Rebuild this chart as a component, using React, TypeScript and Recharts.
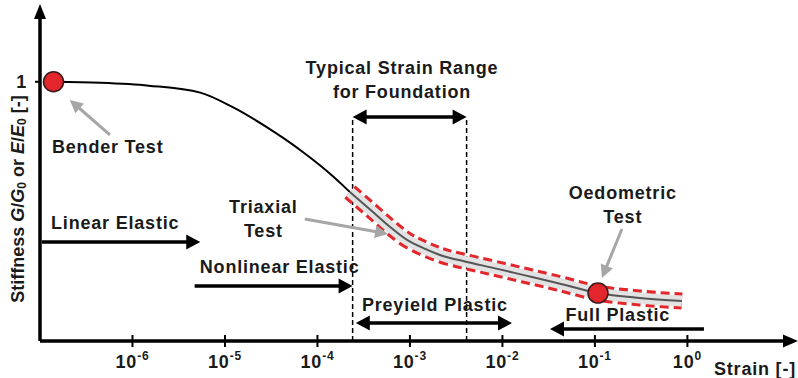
import React from 'react';
import {
  ComposedChart,
  Line,
  Scatter,
  XAxis,
  YAxis,
  ReferenceLine,
  ReferenceDot } from
'recharts';

// stiffness degradation curve
const curveStrain = [1.4e-7, 4.5e-7, 1.5e-6, 5.4e-6, 1.2e-5, 2.8e-5, 6.5e-5, 1.5e-4, 2.24e-4, 3.98e-4, 6.1e-4, 9.3e-4, 1.38e-3, 2.11e-3, 4.13e-3, 7.3e-3, 1.67e-2, 3.9e-2, 0.108, 0.306, 0.873];
const curveStiffness = [1.0, 0.996, 0.985, 0.958, 0.903, 0.826, 0.737, 0.633, 0.575, 0.498, 0.44, 0.39, 0.359, 0.332, 0.305, 0.285, 0.255, 0.224, 0.185, 0.166, 0.154];

// lab tests marked on the curve
const testNames = ['Bender Test', 'Oedometric Test'];
const testStrain = [1.4e-7, 0.108];
const testStiffness = [1.0, 0.185];

// start of the dashed band
const bandStart = 2.2e-4;

// typical strain range for foundations
const foundationRange = [2.4e-4, 4.1e-3];

const xTicks = [1e-6, 1e-5, 1e-4, 1e-3, 1e-2, 1e-1, 1];
const xTickExp = ['-6', '-5', '-4', '-3', '-2', '-1', '0'];
const yTicks = [1];

const X_MIN = 1e-7;
const X_MAX = 15.7;
const Y_MAX = 1.3;

const curveData = curveStrain.map((s, i) => ({ strain: s, stiffness: curveStiffness[i] }));
const bandData = curveData.filter((d) => d.strain >= bandStart);
const testData = testNames.map((n, i) => ({ name: n, strain: testStrain[i], stiffness: testStiffness[i] }));

const FONT = '"Liberation Sans", Arial, sans-serif';
const RED = '#e3262b';
const GREY_ARROW = '#a6a6a6';

const textStyle = {
  fontFamily: FONT,
  fontWeight: 700,
  fontSize: 18,
  letterSpacing: 0.8,
  fill: '#1a1a1a'
};

// annotations (placed in data coordinates)
const notes = [
{ text: 'Typical Strain Range', x: 8.2e-4, y: 1.053 },
{ text: 'for Foundation', x: 8.2e-4, y: 0.961 },
{ text: 'Bender Test', x: 5.4e-7, y: 0.748 },
{ text: 'Linear Elastic', x: 6.5e-7, y: 0.455 },
{ text: 'Nonlinear Elastic', x: 3.9e-5, y: 0.285 },
{ text: 'Triaxial', x: 2.6e-5, y: 0.517 },
{ text: 'Test', x: 2.6e-5, y: 0.424 },
{ text: 'Preyield Plastic', x: 1.86e-3, y: 0.139 },
{ text: 'Full Plastic', x: 0.177, y: 0.1 },
{ text: 'Oedometric', x: 0.2, y: 0.571 },
{ text: 'Test', x: 0.2, y: 0.478 }];


// black regime arrows: from -> to, both = double headed
const regimeArrows = [
{ x1: 1.05e-7, y1: 0.382, x2: 5.4e-6, y2: 0.382, both: false },
{ x1: 4.7e-6, y1: 0.212, x2: 2.4e-4, y2: 0.212, both: false },
{ x1: 2.6e-4, y1: 0.069, x2: 1.27e-2, y2: 0.069, both: true },
{ x1: 1.51, y1: 0.046, x2: 3.27e-2, y2: 0.046, both: false },
{ x1: foundationRange[0], y1: 0.864, x2: foundationRange[1], y2: 0.864, both: true }];


// grey pointer arrows to the tests
const pointerArrows = [
{ x1: 5.7e-7, y1: 0.795, x2: 2.1e-7, y2: 0.93 },
{ x1: 7.3e-5, y1: 0.471, x2: 5.8e-4, y2: 0.413 },
{ x1: 0.196, y1: 0.432, x2: 0.119, y2: 0.243 }];


const makeArrow = (color: string, width: number, head: number, half: number, both: boolean) => (p: any) => {
  const { x1, y1, x2, y2 } = p;
  const a = Math.atan2(y2 - y1, x2 - x1);
  const c = Math.cos(a);
  const s = Math.sin(a);
  const tri = (tx: number, ty: number, dir: number) => {
    const bx = tx - dir * head * c;
    const by = ty - dir * head * s;
    return `${tx},${ty} ${bx - half * s},${by + half * c} ${bx + half * s},${by - half * c}`;
  };
  const inset = head * 0.8;
  return (
    <g>
      <line
        x1={both ? x1 + inset * c : x1}
        y1={both ? y1 + inset * s : y1}
        x2={x2 - inset * c}
        y2={y2 - inset * s}
        stroke={color}
        strokeWidth={width} />

      <polygon points={tri(x2, y2, 1)} fill={color} />
      {both && <polygon points={tri(x1, y1, -1)} fill={color} />}
    </g>);

};

const XTick = (props: any) => {
  const { x, y, index } = props;
  return (
    <g>
      <line x1={x} y1={y - 6} x2={x} y2={y + 6} stroke="#000" strokeWidth={2} />
      <text x={x} y={y + 27} textAnchor="middle" style={textStyle}>
        10<tspan dy={-8} fontSize={12}>{xTickExp[index]}</tspan>
      </text>
    </g>);

};

const YTick = (props: any) => {
  const { x, y, payload } = props;
  return (
    <g>
      <line x1={x - 5} y1={y} x2={x} y2={y} stroke="#000" strokeWidth={2} />
      <text x={x - 13} y={y} textAnchor="end" dominantBaseline="central" style={textStyle}>
        {payload.value}
      </text>
    </g>);

};

const YTitle = () =>
<text
  x={18}
  y={199}
  transform="rotate(-90, 18, 199)"
  textAnchor="middle"
  dominantBaseline="central"
  style={{ ...textStyle, letterSpacing: 0 }}>
    Stiffness{' '}
    <tspan fontStyle="italic">G</tspan>/<tspan fontStyle="italic">G</tspan>
    <tspan dy={4} fontSize={12}>0</tspan>
    <tspan dy={-4}>{' or '}</tspan>
    <tspan fontStyle="italic">E</tspan>/<tspan fontStyle="italic">E</tspan>
    <tspan dy={4} fontSize={12}>0</tspan>
    <tspan dy={-4}>{' [-]'}</tspan>
  </text>;


const XTitle = () =>
<text x={796} y={375} textAnchor="end" style={textStyle}>
    Strain [-]
  </text>;


const TestDot = (props: any) =>
<circle cx={props.cx} cy={props.cy} r={10} fill={RED} stroke="#3a1a1a" strokeWidth={1.5} />;


export default function App() {
  return (
    <div style={{ position: 'absolute', left: 0, top: 0, width: 798, height: 378, background: '#fff' }}>
      <ComposedChart width={798} height={378} margin={{ top: 4, right: 0, left: 0, bottom: 0 }}>
        <XAxis
          dataKey="strain"
          type="number"
          scale="log"
          domain={[X_MIN, X_MAX]}
          allowDataOverflow
          ticks={xTicks}
          interval={0}
          height={37}
          axisLine={false}
          tickLine={false}
          tickSize={0}
          tickMargin={0}
          tick={<XTick />}
          label={<XTitle />} />

        <YAxis
          type="number"
          domain={[0, Y_MAX]}
          allowDataOverflow
          ticks={yTicks}
          width={40}
          axisLine={false}
          tickLine={false}
          tickSize={0}
          tickMargin={0}
          tick={<YTick />}
          label={<YTitle />} />

        {/* axes with arrow heads */}
        <ReferenceLine
          segment={[{ x: X_MIN, y: 0 }, { x: X_MAX, y: 0 }]}
          ifOverflow="visible"
          shape={makeArrow('#000', 3.5, 15, 6.5, false)} />

        <ReferenceLine
          segment={[{ x: X_MIN, y: 0 }, { x: X_MIN, y: Y_MAX }]}
          ifOverflow="visible"
          shape={makeArrow('#000', 3.5, 15, 6, false)} />

        {/* strain range limits */}
        {foundationRange.map((s, i) =>
        <ReferenceLine
          key={`lim-${i}`}
          segment={[{ x: s, y: 0 }, { x: s, y: 0.864 }]}
          ifOverflow="visible"
          stroke="#000"
          strokeWidth={1.5}
          strokeDasharray="5 3" />
        )}

        <Line
          data={curveData}
          dataKey="stiffness"
          type="monotone"
          stroke="#000"
          strokeWidth={2}
          dot={false}
          activeDot={false}
          isAnimationActive={false} />

        <Line
          data={bandData}
          dataKey="stiffness"
          type="monotone"
          stroke={RED}
          strokeWidth={17}
          strokeDasharray="9 5"
          dot={false}
          activeDot={false}
          isAnimationActive={false} />

        <Line
          data={bandData}
          dataKey="stiffness"
          type="monotone"
          stroke="#e2e2e2"
          strokeWidth={11}
          dot={false}
          activeDot={false}
          isAnimationActive={false} />

        <Line
          data={bandData}
          dataKey="stiffness"
          type="monotone"
          stroke="#555"
          strokeWidth={2}
          dot={false}
          activeDot={false}
          isAnimationActive={false} />

        {regimeArrows.map((a, i) =>
        <ReferenceLine
          key={`ra-${i}`}
          segment={[{ x: a.x1, y: a.y1 }, { x: a.x2, y: a.y2 }]}
          ifOverflow="visible"
          shape={makeArrow('#000', 3.5, 14, 7.5, a.both)} />
        )}

        {pointerArrows.map((a, i) =>
        <ReferenceLine
          key={`pa-${i}`}
          segment={[{ x: a.x1, y: a.y1 }, { x: a.x2, y: a.y2 }]}
          ifOverflow="visible"
          shape={makeArrow(GREY_ARROW, 3, 13, 6.5, false)} />
        )}

        <Scatter
          data={testData}
          dataKey="stiffness"
          fill={RED}
          shape={<TestDot />}
          isAnimationActive={false} />

        {notes.map((n, i) =>
        <ReferenceDot
          key={`n-${i}`}
          x={n.x}
          y={n.y}
          ifOverflow="visible"
          shape={(p: any) =>
          <text x={p.cx} y={p.cy} textAnchor="middle" dominantBaseline="central" style={textStyle}>
                {n.text}
              </text>
          } />
        )}
      </ComposedChart>
    </div>);

}
